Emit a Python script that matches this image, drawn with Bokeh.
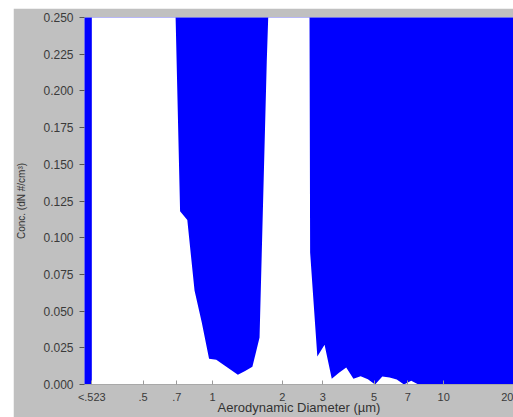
from bokeh.plotting import figure
from bokeh.models import Range1d, FixedTicker, NumeralTickFormatter, Spacer, ColumnDataSource
from bokeh.layouts import row, column
from bokeh.embed import file_html
from bokeh.resources import INLINE

# Aerodynamic diameter (µm) of each channel; the first one is the "<.523" channel
diameters = [0.30, 0.542, 0.583, 0.626, 0.673, 0.723, 0.777, 0.835, 0.898, 0.965,
             1.037, 1.114, 1.197, 1.286, 1.382, 1.486, 1.596, 1.715, 1.843, 1.981,
             2.129, 2.288, 2.458, 2.642, 2.839, 3.051, 3.278, 3.523, 3.786, 4.068,
             4.371, 4.698, 5.048, 5.425, 5.829, 6.264, 6.732, 7.234, 7.774, 8.354,
             8.977, 9.647, 10.37, 11.14, 11.97, 12.86, 13.82, 14.86, 15.96, 17.15,
             18.43, 19.81]
# Concentration dN (#/cm³) per channel
concentration = [1.3, 1.1, 0.9, 0.6, 0.33, 0.118, 0.112, 0.064, 0.042, 0.0175,
                 0.0168, 0.0135, 0.010, 0.0067, 0.0092, 0.0121, 0.032, 0.22, 0.37, 0.6,
                 1.0, 1.5, 2.0, 0.09, 0.019, 0.027, 0.004, 0.008, 0.0115, 0.004,
                 0.0057, 0.0035, 0.0, 0.0054, 0.0047, 0.0034, 0.0, 0.0025, 0.0, 0.0,
                 0.0, 0.0, 0.0, 0.0, 0.0, 0.0, 0.0, 0.0, 0.0, 0.0,
                 0.0, 0.0]

x_tick_values = [0.30, 0.5, 0.7, 1, 2, 3, 5, 7, 10, 20]
x_tick_labels = ["<.523", ".5", ".7", "1", "2", "3", "5", "7", "10", "20"]
y_tick_values = [0.0, 0.025, 0.05, 0.075, 0.1, 0.125, 0.15, 0.175, 0.2, 0.225, 0.25]

FONT = "Liberation Sans"

p = figure(width=500, height=409, x_axis_type="log",
           x_range=Range1d(0.2789, 20.05), y_range=Range1d(0, 0.25),
           output_backend="svg", toolbar_location=None,
           min_border_left=69, min_border_right=0, min_border_top=9, min_border_bottom=29)
p.background_fill_color = "#0000FF"
p.border_fill_color = "#C0C0C0"
p.outline_line_color = None
p.grid.visible = False

src = ColumnDataSource(dict(d=diameters, c=concentration))
p.varea(x="d", y1=0, y2="c", source=src, fill_color="white", fill_alpha=1.0)

xa = p.xaxis[0]
xa.ticker = FixedTicker(ticks=x_tick_values, minor_ticks=[])
xa.major_label_overrides = {v: l for v, l in zip(x_tick_values, x_tick_labels)}
xa.major_tick_in = 4
xa.major_tick_out = 0
xa.minor_tick_in = 0
xa.minor_tick_out = 0
xa.major_tick_line_color = "#9a9a9a"
xa.axis_line_color = "#a8a8a8"
xa.major_label_standoff = 6
xa.major_label_text_font = FONT
xa.major_label_text_font_size = "11px"
xa.major_label_text_color = "#3a3a3a"
xa.axis_label = "Aerodynamic Diameter (µm)"
xa.axis_label_text_font = FONT
xa.axis_label_text_font_size = "13px"
xa.axis_label_text_font_style = "normal"
xa.axis_label_text_color = "#333333"
xa.axis_label_standoff = -6

ya = p.yaxis[0]
ya.ticker = FixedTicker(ticks=y_tick_values, minor_ticks=[])
ya.formatter = NumeralTickFormatter(format="0.000")
ya.major_tick_in = 0
ya.major_tick_out = 5
ya.minor_tick_in = 0
ya.minor_tick_out = 0
ya.major_tick_line_color = "#555555"
ya.axis_line_color = None
ya.major_label_standoff = 6
ya.major_label_text_font = FONT
ya.major_label_text_font_size = "12px"
ya.major_label_text_color = "#3a3a3a"
ya.axis_label = "Conc. (dN #/cm³)"
ya.axis_label_text_font = FONT
ya.axis_label_text_font_size = "10px"
ya.axis_label_text_font_style = "normal"
ya.axis_label_text_color = "#333333"
ya.axis_label_standoff = 13

layout = column(Spacer(width=513, height=8),
                row(Spacer(width=13, height=409), p))
open("out.html", "w").write(file_html(layout, INLINE))
